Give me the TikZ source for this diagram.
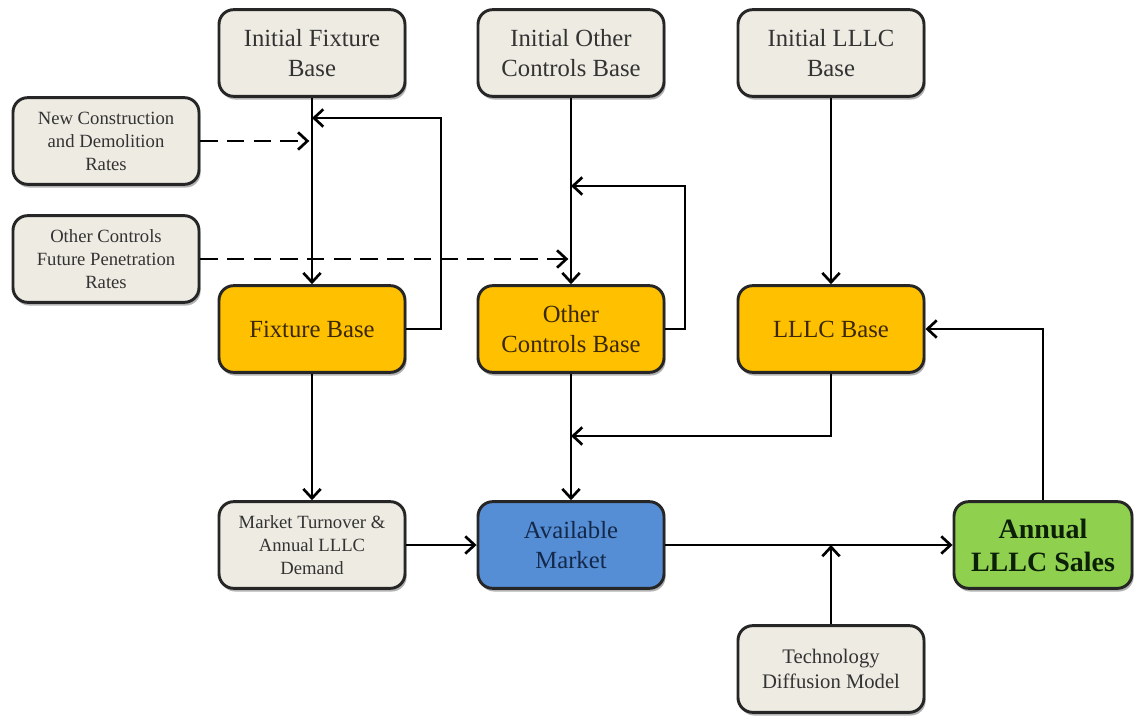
\documentclass[tikz,border=0pt]{standalone}
\usepackage{fontspec}
\setmainfont{Liberation Serif}
\usetikzlibrary{arrows.meta,shadows}
\definecolor{boxgray}{HTML}{EDEBE2}
\definecolor{boxorange}{HTML}{FFC000}
\definecolor{boxblue}{HTML}{558ED5}
\definecolor{boxgreen}{HTML}{8FD14F}
\definecolor{txtgray}{HTML}{333333}
\definecolor{txtbrown}{HTML}{3A2808}
\definecolor{txtblue}{HTML}{14284A}
\definecolor{txtgreen}{HTML}{0C2008}
\begin{document}
\begin{tikzpicture}[x=0.75pt,y=-0.75pt,
  base/.style={draw=black!85, line width=2.2pt, rounded corners=11pt, align=center,
    minimum width=139.5pt, minimum height=65pt, inner sep=2pt,
    drop shadow={shadow xshift=1.2pt, shadow yshift=-2.4pt, opacity=0.3, fill=black}},
  graybox/.style={base, fill=boxgray, text=txtgray},
  orangebox/.style={base, fill=boxorange, text=txtbrown},
  bluebox/.style={base, fill=boxblue, text=txtblue},
  greenbox/.style={base, fill=boxgreen, text=txtgreen, minimum width=133.5pt},
  big/.style={font=\fontsize{18.5}{22.5}\selectfont},
  small/.style={font=\fontsize{14}{17.25}\selectfont},
  mid/.style={font=\fontsize{15.5}{18.5}\selectfont},
  huge/.style={font=\fontsize{21}{24.75}\selectfont\bfseries},
  arr/.style={line width=2pt, -{Straight Barb[length=7pt,width=13pt,line width=2pt]}},
  darr/.style={arr, dash pattern=on 13pt off 7pt},
]
\useasboundingbox (0,0) rectangle (1134,717);
\fill[white] (0,0) rectangle (1134,717);

% top row
\node[graybox, big] (ifb) at (312,53) {Initial Fixture\\Base};
\node[graybox, big] (iocb) at (571,53) {Initial Other\\Controls Base};
\node[graybox, big] (ilb) at (831,53) {Initial LLLC\\Base};

% left inputs
\node[graybox, small] (ncd) at (106,141) {New Construction\\and Demolition\\Rates};
\node[graybox, small] (ocf) at (106,259) {Other Controls\\Future Penetration\\Rates};

% middle row
\node[orangebox, big] (fb) at (312,329) {Fixture Base};
\node[orangebox, big] (ocb) at (571,329) {Other\\Controls Base};
\node[orangebox, big] (lb) at (831,329) {LLLC Base};

% bottom row
\node[graybox, small] (mt) at (312,545) {Market Turnover \&\\Annual LLLC\\Demand};
\node[bluebox, big] (am) at (571,545) {Available\\Market};
\node[greenbox, huge] (als) at (1043,545) {Annual\\LLLC Sales};
\node[graybox, mid] (tdm) at (831,669) {Technology\\Diffusion Model};

% helper coordinates
\coordinate (k1) at (441,118);
\coordinate (k2) at (685,186);
\coordinate (k3) at (831,436);

% connectors
\draw[arr] (ifb) -- (fb);
\draw[arr] (fb.east) -- (fb.east -| k1) -- (k1) -- (k1 -| fb);
\draw[darr, shorten >=2pt] (ncd.east) -- (ncd.east -| fb);
\draw[darr, shorten >=2pt] (ocf.east) -- (ocf.east -| ocb);

\draw[arr] (iocb) -- (ocb);
\draw[arr] (ocb.east) -- (ocb.east -| k2) -- (k2) -- (k2 -| ocb);

\draw[arr] (ilb) -- (lb);

\draw[arr] (fb) -- (mt);
\draw[arr] (ocb) -- (am);
\draw[arr] (lb.south) -- (k3) -- (k3 -| am);

\draw[arr] (mt) -- (am);
\draw[arr] (am) -- (als);
\draw[arr] (tdm.north) -- (tdm.north |- am.east);
\draw[arr] (als.north) -- (als.north |- lb.east) -- (lb.east);
\end{tikzpicture}
\end{document}
